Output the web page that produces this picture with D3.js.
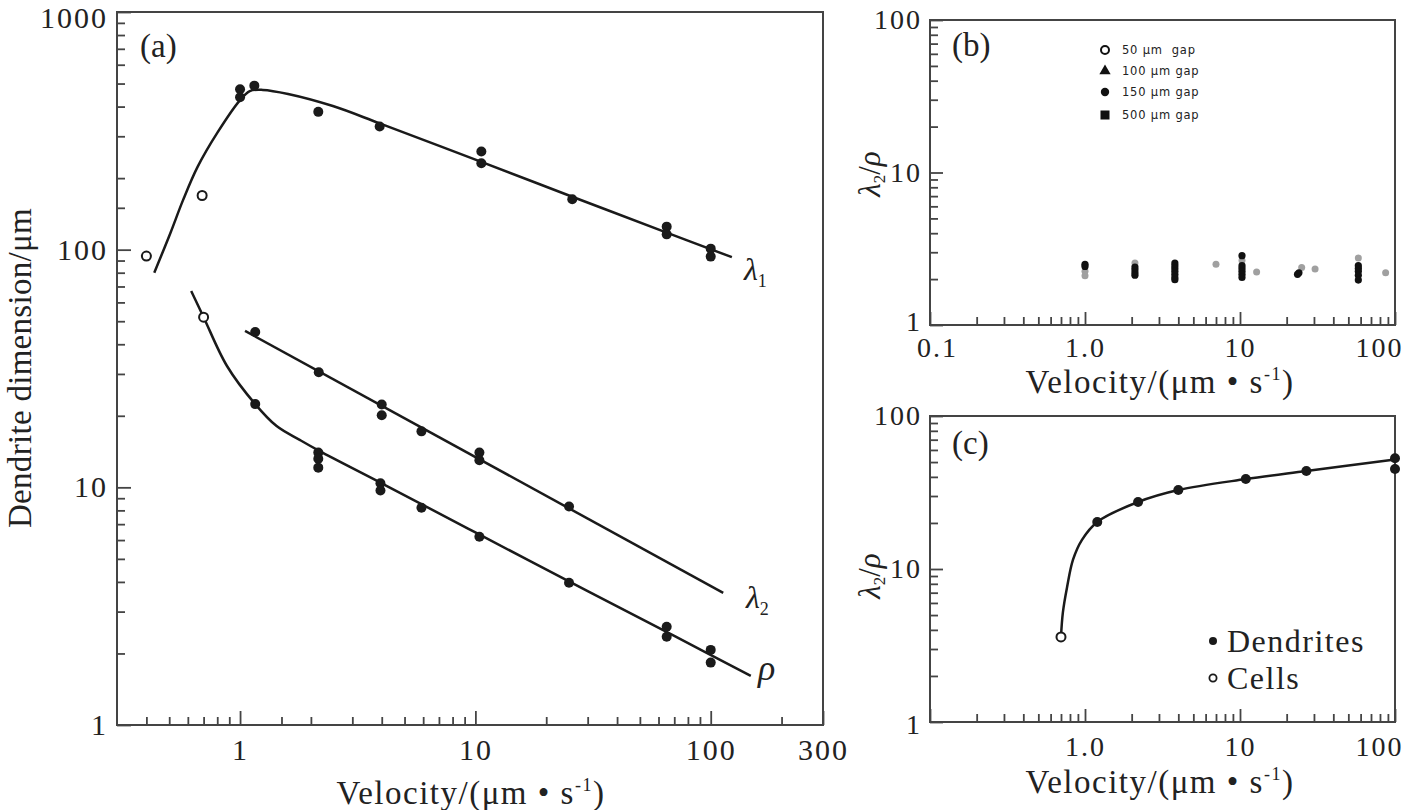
<!DOCTYPE html>
<html><head><meta charset="utf-8">
<script src="https://cdn.jsdelivr.net/npm/d3@7"></script>
<style>
body{margin:0;background:#fff;}
svg{display:block;background:#fff;}
text{font-family:"Liberation Serif","Times New Roman",serif;fill:#222;}
</style></head><body>
<svg id="chart" width="1409" height="810"></svg>
<script>
// ---------------- DATA ----------------
// Panel (a): velocity (µm/s) vs dendrite dimension (µm)
const lambda1Dendrites = [[1.0,473],[1.0,438],[1.15,490],[2.15,380],[3.92,330],[10.6,259],[10.6,231],[25.8,163],[65,125],[65,116],[100,101],[100,93.5]];
const lambda1Cells = [[0.40,94],[0.69,169]];
const lambda1Fit = [[0.432,80],[0.505,117],[0.573,162],[0.66,223],[0.80,310],[1.0,426],[1.1,465],[1.25,470],[1.6,452],[2.48,402],[3.92,340],[10.6,234],[25.8,167],[65,118],[123,93]];
const lambda2Dendrites = [[1.16,45],[2.16,30.5],[4.0,22.3],[4.0,20.1],[5.9,17.2],[10.4,14.0],[10.4,13.0],[25,8.3]];
const lambda2Fit = [[1.05,45.5],[113,3.6]];
const rhoDendrites = [[1.16,22.4],[2.15,14.0],[2.15,13.2],[2.15,12.1],[3.95,10.4],[3.95,9.7],[5.9,8.2],[10.4,6.2],[25,3.97],[65,2.59],[65,2.35],[100,2.07],[100,1.83]];
const rhoCells = [[0.70,52]];
const rhoFit = [[0.62,67],[0.70,52],[0.88,32.4],[1.16,22.4],[1.43,18.1],[1.8,15.8],[2.18,14.2],[4,10.4],[10,6.46],[30,3.66],[70,2.37],[148,1.61]];

// Panel (b): λ2/ρ by gap width
const bBlack = [[1.0,2.5],[1.0,2.42],[2.1,2.4],[2.1,2.3],[2.1,2.2],[2.1,2.12],[3.8,2.55],[3.8,2.45],[3.8,2.35],[3.8,2.25],[3.8,2.15],[3.8,2.05],[3.8,1.98],
  [10.3,2.85],[10.3,2.45],[10.3,2.35],[10.3,2.25],[10.3,2.15],[10.3,2.05],[24,2.2],[23.5,2.15],[58,2.45],[58,2.35],[58,2.25],[58,2.12],[58,1.97]];
const bGray = [[1.0,2.25],[1.0,2.1],[2.1,2.55],[7.0,2.5],[10.3,2.65],[12.8,2.23],[25,2.38],[30.5,2.33],[58,2.75],[87,2.2]];
const bLegendLabels = ["50 \u03bcm  gap","100 \u03bcm gap","150 \u03bcm gap","500 \u03bcm gap"];

// Panel (c): λ2/ρ vs velocity
const cDendrites = [[1.2,20.3],[2.2,27.4],[4.0,32.8],[10.9,38.7],[26.8,43.7],[100,53],[100,45]];
const cCells = [[0.70,3.6]];
const cFit = [[0.70,3.6],[0.72,5.2],[0.766,7.6],[0.837,11.5],[0.956,15.5],[1.2,20.3],[2.2,27.4],[4.0,32.8],[10.9,38.7],[26.8,43.7],[100,52]];
const cLegendLabels = ["Dendrites","Cells"];

// Ticks
const aXMajor = [1,10,100,300], aXLabels = ["1","10","100","300"];
const aXMinor = [0.4,0.5,0.6,0.7,0.8,0.9,1.5,2,3,4,5,6,7,8,9,20,30,40,50,60,70,80,90,200];
const aYMajor = [1,10,100,1000], aYLabels = ["1","10","100","1000"];
const aYMinor = [2,3,4,5,6,7,8,9,20,30,40,50,60,70,80,90,150,200,300,400,500,600,700,800,900];
const bcXMajor = [0.1,1,10,100];
const bXLabels = ["0.1","1.0","10","100"], cXLabels = ["","1.0","10","100"];
const bcXMinor = [0.2,0.3,0.4,0.5,0.6,0.7,0.8,0.9,2,3,4,5,6,7,8,9,20,30,40,50,60,70,80,90];
const bcYMajor = [1,10,100], bcYLabels = ["1","10","100"];
const bcYMinor = [2,3,4,5,6,7,8,9,20,30,40,50,60,70,80,90];

// ---------------- DRAW ----------------
const svg = d3.select("#chart");
const INK = "#1a1a1a", AX = "#444";

function drawAxes(g, x, y, c) {
  const [x0,x1] = x.range(), [y0,y1] = y.range();
  const style = sel => {
    sel.select(".domain").remove();
    sel.attr("font-family", '"Liberation Serif","Times New Roman",serif')
       .attr("font-size", c.fs);
    sel.selectAll("line").attr("stroke", AX).attr("stroke-width", 1.8);
    sel.selectAll("text").attr("fill", "#222").style("letter-spacing", c.ls + "px");
  };
  g.append("g").attr("transform", `translate(0,${y0})`)
    .call(d3.axisBottom(x).tickValues(c.xMinor).tickSize(-c.minorLen).tickFormat("")).call(style);
  const xm = g.append("g").attr("transform", `translate(0,${y0})`)
    .call(d3.axisBottom(x).tickValues(c.xMajor).tickSize(-c.majorLen).tickPadding(c.xPad).tickFormat((d,i)=>c.xLabels[i])).call(style);
  g.append("g").attr("transform", `translate(${x0},0)`)
    .call(d3.axisLeft(y).tickValues(c.yMinor).tickSize(-c.minorLen).tickFormat("")).call(style);
  const ym = g.append("g").attr("transform", `translate(${x0},0)`)
    .call(d3.axisLeft(y).tickValues(c.yMajor).tickSize(-c.majorLen).tickPadding(c.yPad).tickFormat((d,i)=>c.yLabels[i])).call(style);
  g.append("rect").attr("x", x0).attr("y", y1).attr("width", x1 - x0).attr("height", y0 - y1)
    .attr("fill", "none").attr("stroke", AX).attr("stroke-width", 2);
  return {xm, ym};
}

function logLine(x, y) {
  return d3.line().x(d => x(d[0])).y(d => y(d[1])).curve(d3.curveCatmullRom.alpha(0.5));
}

// ===== Panel (a) =====
const xa = d3.scaleLog().domain([0.3,300]).range([117,823]);
const ya = d3.scaleLog().domain([1,1000]).range([725,12]);
const ga = svg.append("g");
const axa = drawAxes(ga, xa, ya, {xMajor:aXMajor, xLabels:aXLabels, xMinor:aXMinor, yMajor:aYMajor, yLabels:aYLabels, yMinor:aYMinor,
  majorLen:14, minorLen:8, xPad:14, yPad:9, fs:30, ls:2});
axa.ym.selectAll("text").attr("dy", d => d === 1000 ? "0.5em" : "0.32em");

[lambda1Fit, lambda2Fit, rhoFit].forEach(f => {
  ga.append("path").attr("d", logLine(xa, ya)(f)).attr("fill","none").attr("stroke",INK).attr("stroke-width",2.5);
});
[lambda1Dendrites, lambda2Dendrites, rhoDendrites].forEach(arr => {
  ga.selectAll(null).data(arr).enter().append("circle")
    .attr("cx", d => xa(d[0])).attr("cy", d => ya(d[1])).attr("r", 5).attr("fill", INK);
});
[lambda1Cells, rhoCells].forEach(arr => {
  ga.selectAll(null).data(arr).enter().append("circle")
    .attr("cx", d => xa(d[0])).attr("cy", d => ya(d[1])).attr("r", 4.5).attr("fill", "#fff").attr("stroke", INK).attr("stroke-width", 2);
});
ga.append("text").attr("x",140).attr("y",57).attr("font-size",33).text("(a)");
// curve labels
const l1 = ga.append("text").attr("x",744).attr("y",280).attr("font-size",32);
l1.append("tspan").attr("font-style","italic").text("\u03bb");
l1.append("tspan").attr("font-size",18).attr("dy",7).text("1");
const l2 = ga.append("text").attr("x",746).attr("y",608).attr("font-size",32);
l2.append("tspan").attr("font-style","italic").text("\u03bb");
l2.append("tspan").attr("font-size",18).attr("dy",7).text("2");
ga.append("text").attr("x",758).attr("y",680).attr("font-size",36).attr("font-style","italic").text("\u03c1");
// axis titles
const at = ga.append("text").attr("x",471).attr("y",804).attr("font-size",33).attr("text-anchor","middle").style("letter-spacing","1.5px");
at.append("tspan").text("Velocity/(\u03bcm \u2022 s");
at.append("tspan").attr("font-size",18).attr("dy",-13).text("-1");
at.append("tspan").attr("dy",13).text(")");
ga.append("text").attr("transform","translate(31,368) rotate(-90)").attr("text-anchor","middle")
  .attr("font-size",33).style("letter-spacing","0.3px").text("Dendrite dimension/\u03bcm");

// ===== Panel (b) =====
const xb = d3.scaleLog().domain([0.1,100]).range([930,1395]);
const yb = d3.scaleLog().domain([1,100]).range([325,20]);
const gb = svg.append("g");
const axb = drawAxes(gb, xb, yb, {xMajor:bcXMajor, xLabels:bXLabels, xMinor:bcXMinor, yMajor:bcYMajor, yLabels:bcYLabels, yMinor:bcYMinor,
  majorLen:13, minorLen:8, xPad:12, yPad:8, fs:28, ls:2});
axb.xm.selectAll("text").attr("dx", d => d === 100 ? -16 : (d === 0.1 ? 7 : 0));
axb.ym.selectAll("text").attr("dy", d => d === 1 ? "0.2em" : "0.32em");

gb.selectAll(null).data(bGray).enter().append("circle")
  .attr("cx", d => xb(d[0])).attr("cy", d => yb(d[1])).attr("r", 3.5).attr("fill", "#a0a0a0");
gb.selectAll(null).data(bBlack).enter().append("circle")
  .attr("cx", d => xb(d[0])).attr("cy", d => yb(d[1])).attr("r", 3.6).attr("fill", "#111");
gb.append("text").attr("x",952).attr("y",56).attr("font-size",33).text("(b)");

// legend (b)
const legY = [50,71,92,115];
const lx = 1105;
gb.append("circle").attr("cx",lx).attr("cy",legY[0]).attr("r",4).attr("fill","#fff").attr("stroke","#111").attr("stroke-width",2);
gb.append("path").attr("d",d3.symbol(d3.symbolTriangle,55)()).attr("transform",`translate(${lx},${legY[1]})`).attr("fill","#111");
gb.append("circle").attr("cx",lx).attr("cy",legY[2]).attr("r",4.2).attr("fill","#111");
gb.append("rect").attr("x",lx-4.5).attr("y",legY[3]-4.5).attr("width",9).attr("height",9).attr("fill","#111");
gb.selectAll(null).data(bLegendLabels).enter().append("text")
  .attr("x",1122).attr("y",(d,i)=>legY[i]+4).attr("font-size",11.5)
  .style("font-family",'"DejaVu Sans",sans-serif').attr("fill","#808080").style("letter-spacing","0.8px")
  .style("white-space","pre").text(d=>d);

const bt = gb.append("text").attr("x",1160).attr("y",393).attr("font-size",33).attr("text-anchor","middle").style("letter-spacing","1.5px");
bt.append("tspan").text("Velocity/(\u03bcm \u2022 s");
bt.append("tspan").attr("font-size",18).attr("dy",-13).text("-1");
bt.append("tspan").attr("dy",13).text(")");

function ratioTitle(g, cx, cy) {
  const t = g.append("text").attr("transform",`translate(${cx},${cy}) rotate(-90)`).attr("text-anchor","middle").attr("font-size",31);
  t.append("tspan").attr("font-style","italic").text("\u03bb");
  t.append("tspan").attr("font-size",17).attr("dy",5).text("2");
  t.append("tspan").attr("dy",-5).text("/");
  t.append("tspan").attr("font-style","italic").text("\u03c1");
}
ratioTitle(gb, 880, 174);

// ===== Panel (c) =====
const xc = d3.scaleLog().domain([0.1,100]).range([930,1395]);
const yc = d3.scaleLog().domain([1,100]).range([722,416]);
const gc = svg.append("g");
const axc = drawAxes(gc, xc, yc, {xMajor:bcXMajor, xLabels:cXLabels, xMinor:bcXMinor, yMajor:bcYMajor, yLabels:bcYLabels, yMinor:bcYMinor,
  majorLen:13, minorLen:8, xPad:14, yPad:8, fs:28, ls:2});
axc.xm.selectAll("text").attr("dx", d => d === 100 ? -16 : 0);
axc.ym.selectAll("text").attr("dy", d => d === 1 ? "0.42em" : "0.32em");

gc.append("path").attr("d", logLine(xc, yc)(cFit)).attr("fill","none").attr("stroke",INK).attr("stroke-width",2.5);
gc.selectAll(null).data(cDendrites).enter().append("circle")
  .attr("cx", d => xc(d[0])).attr("cy", d => yc(d[1])).attr("r", 5).attr("fill", INK);
gc.selectAll(null).data(cCells).enter().append("circle")
  .attr("cx", d => xc(d[0])).attr("cy", d => yc(d[1])).attr("r", 4.5).attr("fill", "#fff").attr("stroke", INK).attr("stroke-width", 2);
gc.append("text").attr("x",952).attr("y",454).attr("font-size",33).text("(c)");

// legend (c)
gc.append("circle").attr("cx",1213).attr("cy",641).attr("r",4).attr("fill",INK);
gc.append("circle").attr("cx",1213).attr("cy",678).attr("r",3.6).attr("fill","#fff").attr("stroke",INK).attr("stroke-width",1.8);
gc.selectAll(null).data(cLegendLabels).enter().append("text")
  .attr("x",1227).attr("y",(d,i)=>[652,689][i]).attr("font-size",32).style("letter-spacing","1.5px").text(d=>d);

const ct = gc.append("text").attr("x",1160).attr("y",793).attr("font-size",33).attr("text-anchor","middle").style("letter-spacing","1.5px");
ct.append("tspan").text("Velocity/(\u03bcm \u2022 s");
ct.append("tspan").attr("font-size",18).attr("dy",-13).text("-1");
ct.append("tspan").attr("dy",13).text(")");
ratioTitle(gc, 880, 576);
</script>
</body></html>
